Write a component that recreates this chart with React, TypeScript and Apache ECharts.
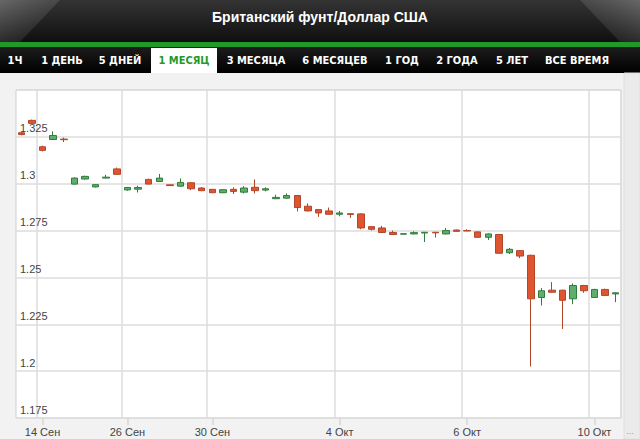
import React, { useEffect, useRef } from "react";
import * as echarts from "echarts";

const title = "Британский фунт/Доллар США";
const tabs = ["1Ч", "1 ДЕНЬ", "5 ДНЕЙ", "1 МЕСЯЦ", "3 МЕСЯЦА", "6 МЕСЯЦЕВ", "1 ГОД", "2 ГОДА", "5 ЛЕТ", "ВСЕ ВРЕМЯ"];
const tabCenters = [15, 62, 120, 184, 256, 335, 402, 457, 512, 577];
const activeTab = 3;

const tickIndices = [2, 10, 18, 30, 42, 54];
const tickLabels = ["14 Сен", "26 Сен", "30 Сен", "4 Окт", "6 Окт", "10 Окт"];

const opens = [1.3272, 1.3338, 1.3197, 1.3236, 1.3238, 1.2998, 1.3025, 1.2983, 1.3030, 1.3079,
  1.2967, 1.2971, 1.3023, 1.3012, 1.2994, 1.2987, 1.3005, 1.2977, 1.2970, 1.2952,
  1.2970, 1.2955, 1.2981, 1.2966, 1.2920, 1.2923, 1.2937, 1.2880, 1.2862, 1.2855,
  1.2837, 1.2840, 1.2839, 1.2771, 1.2764, 1.2740, 1.2731, 1.2732, 1.2737, 1.2741,
  1.2732, 1.2753, 1.2750, 1.2743, 1.2714, 1.2729, 1.2632, 1.2643, 1.2618, 1.2393,
  1.2432, 1.2432, 1.2386, 1.2457, 1.2393, 1.2436, 1.2412];
const closes = [1.3262, 1.3322, 1.3178, 1.3257, 1.3235, 1.3030, 1.3039, 1.2995, 1.3035, 1.3050,
  1.2980, 1.2980, 1.2998, 1.3030, 1.2990, 1.3007, 1.2973, 1.2963, 1.2952, 1.2968,
  1.2959, 1.2977, 1.2963, 1.2973, 1.2927, 1.2937, 1.2873, 1.2855, 1.2844, 1.2837,
  1.2844, 1.2836, 1.2764, 1.2757, 1.2740, 1.2729, 1.2733, 1.2739, 1.2741, 1.2738,
  1.2750, 1.2746, 1.2748, 1.2714, 1.2732, 1.2629, 1.2650, 1.2614, 1.2386, 1.2429,
  1.2421, 1.2378, 1.2457, 1.2429, 1.2436, 1.2404, 1.2418];
const lows = [1.3258, 1.3318, 1.3172, 1.3233, 1.3222, 1.2995, 1.3022, 1.2980, 1.3028, 1.3047,
  1.2962, 1.2953, 1.2996, 1.3010, 1.2988, 1.2985, 1.2966, 1.2960, 1.2950, 1.2950,
  1.2945, 1.2948, 1.2948, 1.2959, 1.2918, 1.2921, 1.2852, 1.2852, 1.2823, 1.2835,
  1.2826, 1.2818, 1.2757, 1.2750, 1.2737, 1.2727, 1.2730, 1.2730, 1.2689, 1.2713,
  1.2730, 1.2744, 1.2747, 1.2712, 1.2700, 1.2627, 1.2625, 1.2603, 1.2025, 1.2350,
  1.2419, 1.2225, 1.2357, 1.2418, 1.2391, 1.2400, 1.2368];
const highs = [1.3275, 1.3342, 1.3203, 1.3279, 1.3246, 1.3034, 1.3043, 1.2997, 1.3047, 1.3086,
  1.2983, 1.2989, 1.3026, 1.3052, 1.2995, 1.3028, 1.3008, 1.2982, 1.2972, 1.2970,
  1.2981, 1.2987, 1.3023, 1.2981, 1.2941, 1.2948, 1.2940, 1.2895, 1.2864, 1.2873,
  1.2855, 1.2842, 1.2842, 1.2773, 1.2775, 1.2750, 1.2734, 1.2746, 1.2742, 1.2742,
  1.2764, 1.2755, 1.2757, 1.2745, 1.2735, 1.2732, 1.2657, 1.2645, 1.2621, 1.2443,
  1.2475, 1.2434, 1.2468, 1.2460, 1.2439, 1.2440, 1.2421];

const yMin = 1.175;
const yMax = 1.35;
const yStep = 0.025;

export default function App() {
  const ref = useRef<HTMLDivElement>(null);
  useEffect(() => {
    if (!ref.current) return;
    const chart = echarts.init(ref.current, undefined, { renderer: "svg" });
    const categories = opens.map((_, i) => "c" + i);
    const labelAt = (idx: number) => {
      const k = tickIndices.indexOf(idx);
      return k >= 0 ? tickLabels[k] : "";
    };
    const showIdx = (idx: number) => tickIndices.indexOf(idx) >= 0;
    const data = opens.map((o, i) => [o, closes[i], lows[i], highs[i]]);

    const tabFont = "'Liberation Sans Narrow', 'DejaVu Sans Condensed', Arial, sans-serif";
    const graphics: any[] = [
      {
        type: "rect",
        shape: { x: 0, y: 0, width: 640, height: 43 },
        style: {
          fill: new echarts.graphic.LinearGradient(0, 0, 0, 1, [
            { offset: 0, color: "#343434" },
            { offset: 1, color: "#0e0e0e" },
          ]),
        },
        silent: true,
      },
      {
        type: "polygon",
        shape: { points: [[0, 0], [60, 0], [20, 42], [0, 42]] },
        style: {
          fill: new echarts.graphic.LinearGradient(0, 0, 1, 1, [
            { offset: 0, color: "rgba(200,200,200,0.35)" },
            { offset: 1, color: "rgba(120,120,120,0.05)" },
          ]),
        },
        silent: true,
      },
      {
        type: "polygon",
        shape: { points: [[580, 0], [640, 0], [640, 42], [620, 42]] },
        style: {
          fill: new echarts.graphic.LinearGradient(1, 0, 0, 1, [
            { offset: 0, color: "rgba(200,200,200,0.35)" },
            { offset: 1, color: "rgba(120,120,120,0.05)" },
          ]),
        },
        silent: true,
      },
      {
        type: "text",
        x: 320,
        y: 17,
        style: {
          text: title,
          fill: "#ffffff",
          font: "bold 14px 'Liberation Sans', Arial, sans-serif",
          align: "center",
          verticalAlign: "middle",
        },
      },
      {
        type: "rect",
        shape: { x: 0, y: 42, width: 640, height: 5 },
        style: { fill: "#1f9a2a" },
        silent: true,
      },
      {
        type: "rect",
        shape: { x: 0, y: 47, width: 640, height: 26 },
        style: {
          fill: new echarts.graphic.LinearGradient(0, 0, 0, 1, [
            { offset: 0, color: "#1c1c1c" },
            { offset: 1, color: "#000000" },
          ]),
        },
        silent: true,
      },
      {
        type: "rect",
        shape: { x: 151, y: 48, width: 66, height: 25 },
        style: { fill: "#ffffff" },
        silent: true,
      },
      {
        type: "rect",
        shape: { x: 624, y: 73, width: 16, height: 366 },
        style: { fill: "#ebebeb", stroke: "#dedede", lineWidth: 1 },
        silent: true,
      },
      {
        type: "text",
        x: 630,
        y: 431,
        style: { text: "...", fill: "#999", font: "9px Arial", align: "center", verticalAlign: "middle" },
      },
    ];
    tabs.forEach((t, i) => {
      graphics.push({
        type: "text",
        x: tabCenters[i],
        y: 60,
        style: {
          text: t,
          fill: i === activeTab ? "#1f9a2a" : "#ffffff",
          font: `bold 11px ${tabFont}`,
          align: "center",
          verticalAlign: "middle",
        },
      });
    });

    chart.setOption({
      animation: false,
      backgroundColor: "#f2f2f2",
      grid: {
        left: 16,
        right: 19,
        top: 90,
        bottom: 21,
        show: true,
        backgroundColor: "#ffffff",
        borderColor: "#cfcfcf",
        borderWidth: 1,
      },
      xAxis: {
        type: "category",
        data: categories,
        boundaryGap: true,
        axisLine: { show: false },
        axisTick: {
          show: true,
          alignWithLabel: true,
          interval: (idx: number) => showIdx(idx),
          length: 7,
          lineStyle: { color: "#d6d6d6", width: 1.5 },
        },
        axisLabel: {
          interval: (idx: number) => showIdx(idx),
          formatter: (_v: string, idx: number) => labelAt(idx),
          color: "#444",
          fontSize: 11,
          fontFamily: "Arial, 'Liberation Sans', sans-serif",
          margin: 8,
        },
        splitLine: {
          show: true,
          interval: (idx: number) => showIdx(idx),
          lineStyle: { color: "#dddddd", width: 1.5 },
        },
      },
      yAxis: {
        type: "value",
        min: yMin,
        max: yMax,
        interval: yStep,
        axisLine: { show: false },
        axisTick: { show: false },
        axisLabel: {
          inside: true,
          showMaxLabel: false,
          margin: 4,
          verticalAlign: "bottom",
          padding: [0, 0, 3, 0],
          color: "#444",
          fontSize: 11,
          fontFamily: "Arial, 'Liberation Sans', sans-serif",
          formatter: (v: number) => String(parseFloat(v.toFixed(3))),
        },
        splitLine: { show: true, lineStyle: { color: "#dddddd", width: 1.5 } },
      },
      series: [
        {
          type: "candlestick",
          data,
          barWidth: 7,
          itemStyle: {
            color: "#5fae6e",
            color0: "#de5530",
            borderColor: "#2f7d3b",
            borderColor0: "#b0462a",
            borderWidth: 1,
          },
        },
      ],
      graphic: graphics,
    });
    return () => chart.dispose();
  }, []);
  return <div ref={ref} style={{ position: "fixed", left: 0, top: 0, width: 640, height: 439 }} />;
}
